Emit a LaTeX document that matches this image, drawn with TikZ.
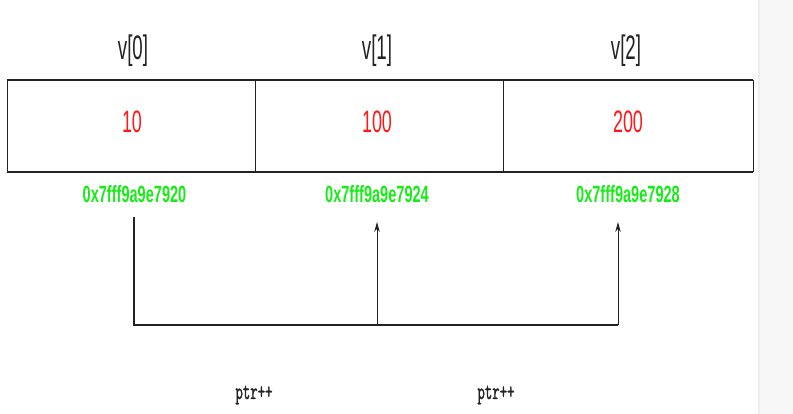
\documentclass[tikz,border=0pt]{standalone}
\usepackage{fontspec}
\usetikzlibrary{arrows.meta}
\newfontfamily\labfont[FakeStretch=0.55]{Liberation Sans}
\newfontfamily\valfont[FakeStretch=0.58]{Liberation Sans}
\newfontfamily\addrfont[FakeStretch=0.62]{Liberation Sans Bold}
\newfontfamily\codefont[FakeStretch=0.6,FakeBold=1.2]{Latin Modern Mono}
\definecolor{valred}{RGB}{255,25,25}
\definecolor{addrgreen}{RGB}{25,235,25}
\definecolor{striptone}{RGB}{247,247,247}
\definecolor{stripedge}{RGB}{238,238,238}
\definecolor{inkgray}{RGB}{34,34,34}
\tikzset{
  cellbox/.style={draw=inkgray, line width=0.9pt, minimum height=91pt, inner sep=0pt},
  idxlabel/.style={inner sep=0pt, text=inkgray, font=\labfont\fontsize{34}{40}\selectfont},
  vallabel/.style={inner sep=0pt, text=valred, font=\valfont\fontsize{31}{36}\selectfont},
  addrlabel/.style={inner sep=0pt, text=addrgreen, font=\addrfont\fontsize{23.5}{28}\selectfont},
  codelabel/.style={inner sep=0pt, text=inkgray, font=\codefont\fontsize{24}{28}\selectfont},
  rail/.style={draw=inkgray, line width=2pt},
  link/.style={draw=inkgray, line width=1.1pt},
  uparrow/.style={draw=inkgray, line width=0.9pt, -{Stealth[length=10pt,width=5.5pt]}}
}
\begin{document}
\begin{tikzpicture}[x=1pt,y=-1pt]
\useasboundingbox (0,0) rectangle (793,414);
\fill[white] (0,0) rectangle (793,414);
\fill[striptone] (758,0) rectangle (793,414);
\draw[stripedge, line width=1.5pt] (759,0) -- (759,414);
% cells
\node[cellbox, minimum width=248pt] (c0) at (131,126) {};
\node[cellbox, minimum width=248pt] (c1) at (379,126) {};
\node[cellbox, minimum width=250pt] (c2) at (628,126) {};
\draw[rail] (c0.north west) -- (c2.north east);
\draw[rail] (c0.south west) -- (c2.south east);
% index labels
\node[idxlabel] (i0) at (133,51) {v[0]};
\node[idxlabel] (i1) at (377,51) {v[1]};
\node[idxlabel] (i2) at (626,51) {v[2]};
% values
\node[vallabel] (v0) at (132,122) {10};
\node[vallabel] (v1) at (377,122) {100};
\node[vallabel] (v2) at (628,122) {200};
% addresses
\node[addrlabel] (a0) at (134.5,194) {0x7fff9a9e7920};
\node[addrlabel] (a1) at (377,194) {0x7fff9a9e7924};
\node[addrlabel] (a2) at (628,194) {0x7fff9a9e7928};
% connectors
\coordinate (s0) at (134,217);
\coordinate (b0) at (134,325);
\coordinate (b1) at (377,325);
\coordinate (b2) at (618,325);
\coordinate (t1) at (377,222);
\coordinate (t2) at (618,222);
\draw[link] (s0) -- (b0) -- (b2);
\draw[uparrow] (b1) -- (t1);
\draw[uparrow] (b2) -- (t2);
% ptr++ labels
\node[codelabel] (p0) at (254,395) {ptr++};
\node[codelabel] (p1) at (496,395) {ptr++};
\end{tikzpicture}
\end{document}
